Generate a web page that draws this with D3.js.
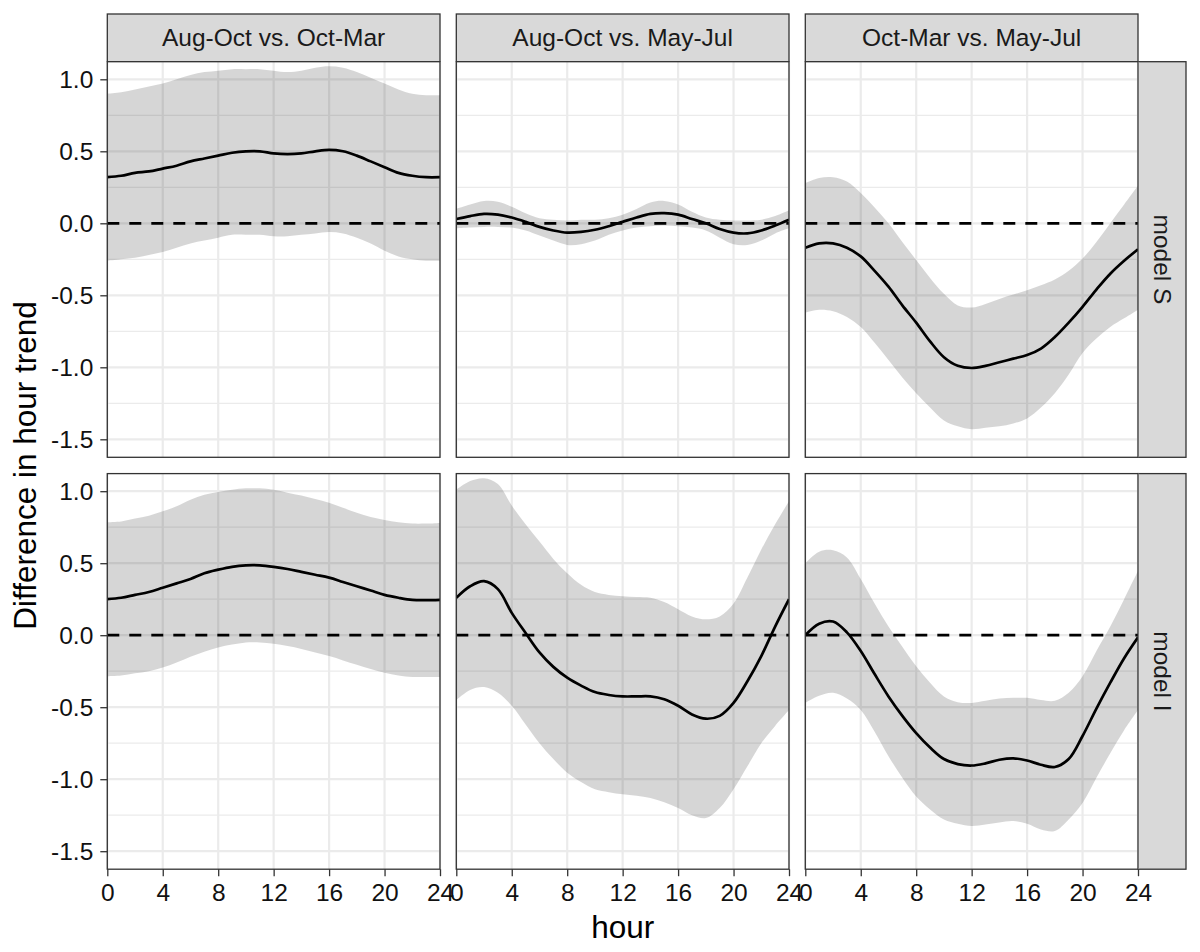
<!DOCTYPE html>
<html>
<head>
<meta charset="utf-8">
<script src="https://cdn.jsdelivr.net/npm/d3@7"></script>
<style>
  html, body { margin: 0; padding: 0; background: #fff; }
  svg { display: block; font-family: "Liberation Sans", Arial, sans-serif; }
</style>
</head>
<body>
<svg id="chart" width="1200" height="952"></svg>
<script>
// ---------------- data ----------------
const comparisons = ["Aug-Oct vs. Oct-Mar", "Aug-Oct vs. May-Jul", "Oct-Mar vs. May-Jul"];
const models = ["model S", "model I"];
const hours = [0,1,2,3,4,5,6,7,8,9,10,11,12,13,14,15,16,17,18,19,20,21,22,23,24];
const xTicks = [0, 4, 8, 12, 16, 20, 24];
const yTicks = [-1.5, -1.0, -0.5, 0.0, 0.5, 1.0];
const yMinor = [-1.25, -0.75, -0.25, 0.25, 0.75];

// model S, Aug-Oct vs. Oct-Mar
const fitS1 = [0.32,0.33,0.35,0.36,0.38,0.40,0.43,0.45,0.47,0.49,0.50,0.50,0.485,0.48,0.485,0.50,0.51,0.50,0.47,0.43,0.39,0.35,0.33,0.32,0.32];
const uppS1 = [0.90,0.91,0.93,0.95,0.97,1.00,1.03,1.05,1.06,1.07,1.07,1.07,1.06,1.05,1.06,1.08,1.09,1.08,1.05,1.01,0.97,0.93,0.90,0.89,0.89];
const lowS1 = [-0.26,-0.25,-0.24,-0.22,-0.20,-0.17,-0.14,-0.12,-0.10,-0.08,-0.08,-0.08,-0.09,-0.09,-0.08,-0.07,-0.06,-0.07,-0.10,-0.14,-0.19,-0.23,-0.25,-0.26,-0.26];
// model S, Aug-Oct vs. May-Jul
const fitS2 = [0.03,0.05,0.065,0.06,0.04,0.01,-0.025,-0.05,-0.065,-0.06,-0.045,-0.02,0.01,0.04,0.065,0.07,0.06,0.03,0.0,-0.04,-0.065,-0.07,-0.05,-0.015,0.025];
const uppS2 = [0.10,0.13,0.155,0.15,0.115,0.07,0.035,0.025,0.02,0.025,0.025,0.035,0.06,0.10,0.145,0.155,0.13,0.08,0.04,0.025,0.02,0.02,0.025,0.05,0.09];
const lowS2 = [-0.035,-0.03,-0.025,-0.025,-0.03,-0.05,-0.085,-0.12,-0.15,-0.145,-0.12,-0.08,-0.05,-0.03,-0.02,-0.015,-0.02,-0.03,-0.05,-0.10,-0.145,-0.15,-0.12,-0.07,-0.035];
// model S, Oct-Mar vs. May-Jul
const fitS3 = [-0.17,-0.14,-0.14,-0.17,-0.23,-0.33,-0.44,-0.57,-0.69,-0.82,-0.93,-0.99,-1.005,-0.99,-0.965,-0.94,-0.915,-0.87,-0.79,-0.69,-0.58,-0.46,-0.35,-0.26,-0.18];
const uppS3 = [0.28,0.315,0.32,0.29,0.21,0.11,0.0,-0.13,-0.255,-0.38,-0.49,-0.57,-0.585,-0.56,-0.525,-0.495,-0.465,-0.43,-0.39,-0.33,-0.245,-0.13,0.0,0.13,0.26];
const lowS3 = [-0.62,-0.60,-0.61,-0.65,-0.72,-0.83,-0.95,-1.07,-1.18,-1.28,-1.37,-1.41,-1.43,-1.42,-1.41,-1.39,-1.355,-1.28,-1.18,-1.05,-0.90,-0.80,-0.72,-0.66,-0.60];
// model I, Aug-Oct vs. Oct-Mar
const fitI1 = [0.25,0.26,0.28,0.30,0.33,0.36,0.39,0.43,0.455,0.475,0.485,0.485,0.475,0.46,0.44,0.42,0.40,0.37,0.34,0.31,0.28,0.26,0.245,0.243,0.245];
const uppI1 = [0.785,0.79,0.81,0.83,0.86,0.895,0.94,0.975,0.995,1.01,1.02,1.02,1.01,0.99,0.97,0.945,0.92,0.885,0.85,0.82,0.80,0.785,0.775,0.775,0.78];
const lowI1 = [-0.285,-0.28,-0.265,-0.25,-0.225,-0.19,-0.15,-0.115,-0.085,-0.065,-0.05,-0.05,-0.06,-0.075,-0.095,-0.12,-0.145,-0.175,-0.205,-0.235,-0.26,-0.28,-0.29,-0.29,-0.29];
// model I, Aug-Oct vs. May-Jul
const fitI2 = [0.26,0.34,0.375,0.32,0.155,0.015,-0.12,-0.22,-0.295,-0.35,-0.395,-0.415,-0.425,-0.425,-0.425,-0.445,-0.49,-0.55,-0.58,-0.56,-0.47,-0.32,-0.145,0.06,0.25];
const uppI2 = [1.01,1.07,1.09,1.05,0.90,0.77,0.65,0.53,0.43,0.35,0.30,0.28,0.27,0.265,0.26,0.23,0.18,0.13,0.11,0.13,0.22,0.40,0.595,0.77,0.93];
const lowI2 = [-0.45,-0.38,-0.36,-0.40,-0.49,-0.62,-0.75,-0.86,-0.955,-1.02,-1.07,-1.09,-1.105,-1.115,-1.13,-1.16,-1.20,-1.25,-1.27,-1.20,-1.07,-0.91,-0.75,-0.63,-0.52];
// model I, Oct-Mar vs. May-Jul
const fitI3 = [0.0,0.08,0.095,0.02,-0.11,-0.27,-0.425,-0.56,-0.68,-0.78,-0.86,-0.895,-0.905,-0.89,-0.865,-0.855,-0.87,-0.90,-0.915,-0.86,-0.70,-0.51,-0.33,-0.16,-0.015];
const uppI3 = [0.50,0.58,0.59,0.54,0.39,0.22,0.06,-0.08,-0.215,-0.33,-0.425,-0.465,-0.47,-0.455,-0.44,-0.435,-0.435,-0.45,-0.455,-0.40,-0.285,-0.11,0.06,0.25,0.445];
const lowI3 = [-0.47,-0.42,-0.40,-0.44,-0.52,-0.67,-0.84,-0.99,-1.12,-1.21,-1.28,-1.31,-1.325,-1.315,-1.30,-1.29,-1.31,-1.35,-1.36,-1.28,-1.165,-0.99,-0.82,-0.66,-0.52];

const panelData = [
  [ {fit: fitS1, low: lowS1, upp: uppS1}, {fit: fitS2, low: lowS2, upp: uppS2}, {fit: fitS3, low: lowS3, upp: uppS3} ],
  [ {fit: fitI1, low: lowI1, upp: uppI1}, {fit: fitI2, low: lowI2, upp: uppI2}, {fit: fitI3, low: lowI3, upp: uppI3} ]
];

// ---------------- layout ----------------
const svg = d3.select("#chart");
const panelW = 332.7, panelH = 395.6, gap = 16.3;
const left0 = 107.3, top0 = 61.7;
const stripTop = 14;
const stripW = 48;
const colLeft = [0, 1, 2].map(i => left0 + i * (panelW + gap));
const rowTop = [0, 1].map(i => top0 + i * (panelH + gap));
const yDomain = [-1.625, 1.1222];
const textCol = "#1a1a1a";
const lineCol = "#333333";
const fontSize = 24.5;
const titleSize = 31.5;

const fmt = d => d.toFixed(1).replace("\u2212", "-");

// top strips
comparisons.forEach((c, j) => {
  svg.append("rect")
    .attr("x", colLeft[j]).attr("y", stripTop)
    .attr("width", panelW).attr("height", top0 - stripTop)
    .attr("fill", "#d9d9d9").attr("stroke", lineCol).attr("stroke-width", 1.3);
  svg.append("text")
    .attr("x", colLeft[j] + panelW / 2).attr("y", (stripTop + top0) / 2)
    .attr("text-anchor", "middle").attr("dominant-baseline", "central")
    .attr("font-size", fontSize).attr("fill", textCol)
    .text(c);
});

// right strips
const stripX = colLeft[2] + panelW;
models.forEach((m, i) => {
  svg.append("rect")
    .attr("x", stripX).attr("y", rowTop[i])
    .attr("width", stripW).attr("height", panelH)
    .attr("fill", "#d9d9d9").attr("stroke", lineCol).attr("stroke-width", 1.3);
  const cx = stripX + stripW / 2, cy = rowTop[i] + panelH / 2;
  svg.append("text")
    .attr("transform", `translate(${cx},${cy}) rotate(90)`)
    .attr("text-anchor", "middle").attr("dominant-baseline", "central")
    .attr("font-size", fontSize).attr("fill", textCol)
    .text(m);
});

// panels
panelData.forEach((row, i) => {
  const y = d3.scaleLinear().domain(yDomain).range([rowTop[i] + panelH, rowTop[i]]);
  row.forEach((pd, j) => {
    const x = d3.scaleLinear().domain([0, 24]).range([colLeft[j], colLeft[j] + panelW]);
    const g = svg.append("g");
    const clipId = `clip-${i}-${j}`;
    svg.append("clipPath").attr("id", clipId)
      .append("rect").attr("x", colLeft[j]).attr("y", rowTop[i])
      .attr("width", panelW).attr("height", panelH);

    g.append("rect")
      .attr("x", colLeft[j]).attr("y", rowTop[i])
      .attr("width", panelW).attr("height", panelH).attr("fill", "#fff");

    // minor y grid
    g.selectAll(".ymin").data(yMinor).enter().append("line")
      .attr("x1", colLeft[j]).attr("x2", colLeft[j] + panelW)
      .attr("y1", d => y(d)).attr("y2", d => y(d))
      .attr("stroke", "#ebebeb").attr("stroke-width", 1.3);
    // major grid
    g.selectAll(".ymaj").data(yTicks).enter().append("line")
      .attr("x1", colLeft[j]).attr("x2", colLeft[j] + panelW)
      .attr("y1", d => y(d)).attr("y2", d => y(d))
      .attr("stroke", "#ebebeb").attr("stroke-width", 2.2);
    g.selectAll(".xmaj").data(xTicks).enter().append("line")
      .attr("y1", rowTop[i]).attr("y2", rowTop[i] + panelH)
      .attr("x1", d => x(d)).attr("x2", d => x(d))
      .attr("stroke", "#ebebeb").attr("stroke-width", 2.2);

    const pts = hours.map((h, k) => ({h, fit: pd.fit[k], low: pd.low[k], upp: pd.upp[k]}));
    const gc = g.append("g").attr("clip-path", `url(#${clipId})`);
    gc.append("path").datum(pts)
      .attr("d", d3.area().x(d => x(d.h)).y0(d => y(d.low)).y1(d => y(d.upp)).curve(d3.curveCatmullRom))
      .attr("fill", "#000").attr("fill-opacity", 0.16);
    gc.append("line")
      .attr("x1", colLeft[j]).attr("x2", colLeft[j] + panelW)
      .attr("y1", y(0)).attr("y2", y(0))
      .attr("stroke", "#000").attr("stroke-width", 2.7).attr("stroke-dasharray", "12,10");
    gc.append("path").datum(pts)
      .attr("d", d3.line().x(d => x(d.h)).y(d => y(d.fit)).curve(d3.curveCatmullRom))
      .attr("fill", "none").attr("stroke", "#000").attr("stroke-width", 2.7);

    g.append("rect")
      .attr("x", colLeft[j]).attr("y", rowTop[i])
      .attr("width", panelW).attr("height", panelH)
      .attr("fill", "none").attr("stroke", lineCol).attr("stroke-width", 1.3);

    // y axis on first column
    if (j === 0) {
      const ax = svg.append("g").attr("transform", `translate(${colLeft[0]},0)`)
        .call(d3.axisLeft(y).tickValues(yTicks).tickSize(7).tickPadding(7).tickFormat(fmt));
      ax.select(".domain").remove();
      ax.selectAll(".tick line").attr("stroke", lineCol).attr("stroke-width", 1.3);
      ax.selectAll(".tick text").attr("font-size", fontSize).attr("fill", "#111")
        .attr("font-family", "Liberation Sans, Arial, sans-serif");
    }
    // x axis on bottom row
    if (i === 1) {
      const ax = svg.append("g").attr("transform", `translate(0,${rowTop[1] + panelH})`)
        .call(d3.axisBottom(x).tickValues(xTicks).tickSize(7).tickPadding(7).tickFormat(d3.format("d")));
      ax.select(".domain").remove();
      ax.selectAll(".tick line").attr("stroke", lineCol).attr("stroke-width", 1.3);
      ax.selectAll(".tick text").attr("font-size", fontSize).attr("fill", "#111")
        .attr("font-family", "Liberation Sans, Arial, sans-serif");
    }
  });
});

// axis titles
const areaL = colLeft[0], areaR = colLeft[2] + panelW;
svg.append("text")
  .attr("x", (areaL + areaR) / 2).attr("y", 938)
  .attr("text-anchor", "middle").attr("font-size", titleSize).attr("fill", "#000")
  .text("hour");
svg.append("text")
  .attr("transform", `translate(36,${(rowTop[0] + rowTop[1] + panelH) / 2}) rotate(-90)`)
  .attr("text-anchor", "middle").attr("font-size", titleSize).attr("fill", "#000")
  .text("Difference in hour trend");
</script>
</body>
</html>
